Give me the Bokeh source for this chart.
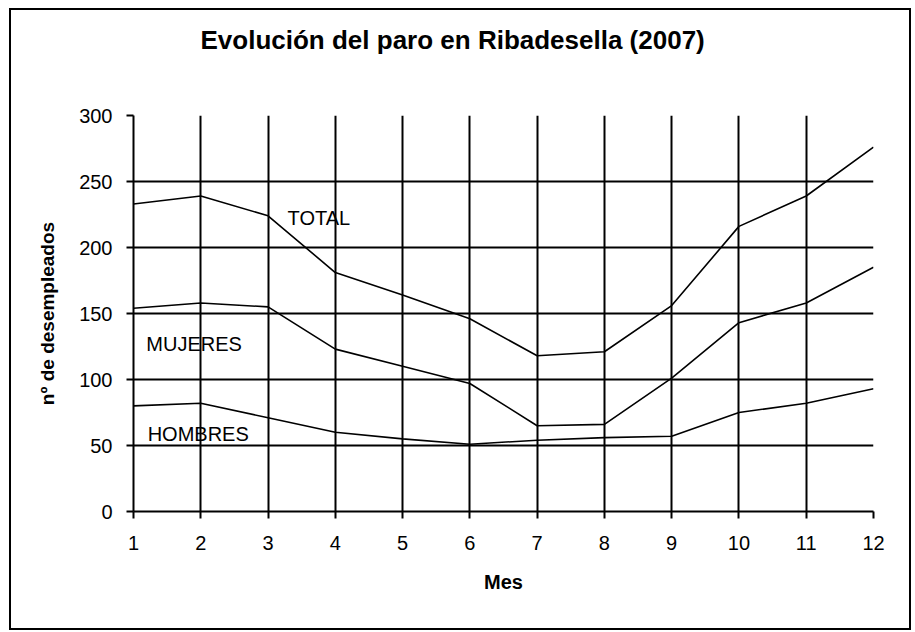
from bokeh.plotting import figure
from bokeh.models import Range1d, Label, FixedTicker, Title
from bokeh.embed import file_html
from bokeh.resources import INLINE

meses = [1, 2, 3, 4, 5, 6, 7, 8, 9, 10, 11, 12]
total = [233, 239, 224, 181, 164, 146, 118, 121, 156, 216, 239, 276]
mujeres = [154, 158, 155, 123, 110, 97, 65, 66, 101, 143, 158, 185]
hombres = [80, 82, 71, 60, 55, 51, 54, 56, 57, 75, 82, 93]
y_ticks = [0, 50, 100, 150, 200, 250, 300]

titulo = "Evolución del paro en Ribadesella (2007)"
series_labels = [("TOTAL", 3.29, 222), ("MUJERES", 1.19, 127), ("HOMBRES", 1.21, 59)]

FONT = "Liberation Sans"

p = figure(width=902, height=622, output_backend="svg", toolbar_location=None,
           x_range=Range1d(1, 12), y_range=Range1d(0, 300),
           min_border_left=122, min_border_right=40, min_border_top=105, min_border_bottom=121,
           background_fill_color="white", border_fill_color="white",
           outline_line_color=None, title=None)
p.styles = {"border": "2px solid black", "box-sizing": "border-box",
            "margin-left": "9px", "margin-top": "8px"}

# empty spacer title nearest the frame, then the real title above it
p.add_layout(Title(text=" ", text_font_size="53px", standoff=0), "above")
p.add_layout(Title(text=titulo, text_font=FONT, text_font_style="bold",
                   text_font_size="26px", text_color="black", align="left",
                   offset=67, standoff=0), "above")

for arr in (total, mujeres, hombres):
    p.line(meses, arr, line_color="black", line_width=1.6)

p.xaxis.ticker = FixedTicker(ticks=meses)
p.yaxis.ticker = FixedTicker(ticks=y_ticks)
for ax in (p.xaxis, p.yaxis):
    ax.axis_line_color = "black"
    ax.axis_line_width = 2
    ax.major_tick_line_color = "black"
    ax.major_tick_line_width = 2
    ax.minor_tick_line_color = None
    ax.major_tick_in = 0
    ax.major_tick_out = 7
    ax.major_label_text_font = FONT
    ax.major_label_text_font_size = "20px"
    ax.major_label_text_color = "black"
    ax.axis_label_text_font = FONT
    ax.axis_label_text_font_style = "bold"
    ax.axis_label_text_color = "black"

p.xaxis.major_label_standoff = 17
p.yaxis.major_label_standoff = 14
p.xaxis.axis_label = "Mes"
p.xaxis.axis_label_text_font_size = "20px"
p.xaxis.axis_label_standoff = 18
p.yaxis.axis_label = "nº de desempleados"
p.yaxis.axis_label_text_font_size = "19px"
p.yaxis.axis_label_standoff = 18

p.xgrid.ticker = FixedTicker(ticks=meses)
p.ygrid.ticker = FixedTicker(ticks=y_ticks)
for g in (p.xgrid, p.ygrid):
    g.grid_line_color = "black"
    g.grid_line_width = 2

for txt, x, y in series_labels:
    p.add_layout(Label(x=x, y=y, text=txt, text_font=FONT, text_font_size="20px",
                       text_color="black", text_align="left", text_baseline="middle"))

open("out.html", "w").write(file_html(p, INLINE))
